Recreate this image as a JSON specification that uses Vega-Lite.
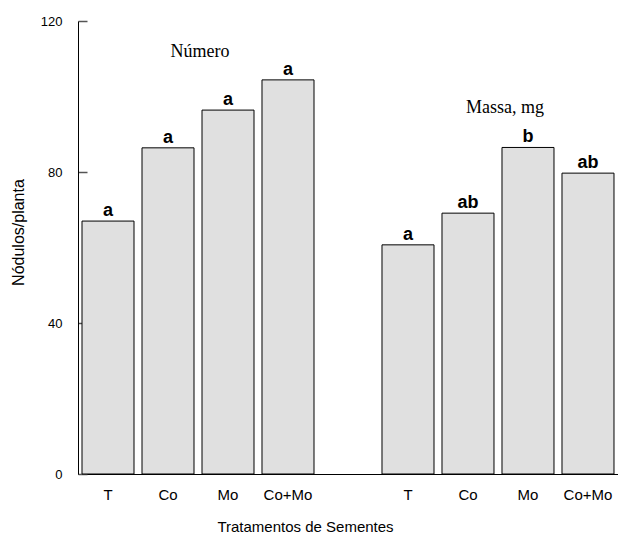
{
  "$schema": "https://vega.github.io/schema/vega-lite/v6.json",
  "width": 540,
  "height": 453,
  "autosize": {"type": "none"},
  "padding": {"left": 78, "top": 21, "right": 0, "bottom": 59},
  "background": "white",
  "config": {"view": {"stroke": null}, "font": "Liberation Sans"},
  "datasets": {
    "bars": [
      {"key": "N_T", "value": 67, "letter": "a"},
      {"key": "N_Co", "value": 86.4, "letter": "a"},
      {"key": "N_Mo", "value": 96.4, "letter": "a"},
      {"key": "N_Co+Mo", "value": 104.4, "letter": "a"},
      {"key": "M_T", "value": 60.7, "letter": "a"},
      {"key": "M_Co", "value": 69.1, "letter": "ab"},
      {"key": "M_Mo", "value": 86.5, "letter": "b"},
      {"key": "M_Co+Mo", "value": 79.7, "letter": "ab"}
    ],
    "notes": [
      {"key": "N_Co", "y": 110.5, "text": "Número"},
      {"key": "M_Co", "y": 95.6, "text": "Massa, mg"}
    ]
  },
  "layer": [
    {
      "data": {"name": "bars"},
      "mark": {"type": "bar", "fill": "#e0e0e0", "stroke": "black", "strokeWidth": 1},
      "encoding": {
        "x": {
          "field": "key", "type": "nominal", "sort": null,
          "scale": {
            "domain": ["N_T", "N_Co", "N_Mo", "N_Co+Mo", "gap", "M_T", "M_Co", "M_Mo", "M_Co+Mo"],
            "paddingInner": 0.1333, "paddingOuter": 0.0667
          },
          "axis": {
            "title": "Tratamentos de Sementes",
            "labelExpr": "datum.value == 'gap' ? '' : split(datum.value, '_')[1]",
            "labelAngle": 0, "labelFontSize": 15, "labelColor": "black",
            "labelPadding": 13, "labelBaseline": "top",
            "ticks": false, "domainColor": "black", "domainWidth": 1,
            "titleFontSize": 15, "titleFontWeight": "normal", "titleColor": "black",
            "titleX": 227, "titleY": 57, "titleBaseline": "alphabetic", "titleAnchor": null, "titleAlign": "center"
          }
        },
        "y": {
          "field": "value", "type": "quantitative",
          "scale": {"domain": [0, 120], "nice": false},
          "axis": {
            "title": "Nódulos/planta", "values": [0, 40, 80, 120],
            "grid": false, "domainColor": "black", "domainWidth": 1,
            "tickSize": -9, "tickColor": "#555555", "tickWidth": 1.5,
            "labelFontSize": 13, "labelColor": "black", "labelPadding": 25,
            "titleFontSize": 16, "titleFontWeight": "normal", "titleColor": "black",
            "titleX": -60, "titleY": 211, "titleAngle": -90, "titleBaseline": "middle", "titleAlign": "center", "titleAnchor": null
          }
        }
      }
    },
    {
      "data": {"name": "bars"},
      "mark": {"type": "text", "fontWeight": "bold", "fontSize": 18, "font": "Liberation Sans", "baseline": "alphabetic", "dy": -5, "color": "black"},
      "encoding": {
        "x": {"field": "key", "type": "nominal", "sort": null},
        "y": {"field": "value", "type": "quantitative"},
        "text": {"field": "letter"}
      }
    },
    {
      "data": {"name": "notes"},
      "transform": [{"filter": "datum.key == 'N_Co'"}],
      "mark": {"type": "text", "fontSize": 18, "font": "Liberation Serif", "baseline": "alphabetic", "align": "center", "dx": 6, "color": "black"},
      "encoding": {
        "x": {"field": "key", "type": "nominal", "sort": null, "bandPosition": 1},
        "y": {"field": "y", "type": "quantitative"},
        "text": {"field": "text"}
      }
    },
    {
      "data": {"name": "notes"},
      "transform": [{"filter": "datum.key == 'M_Co'"}],
      "mark": {"type": "text", "fontSize": 18, "font": "Liberation Serif", "baseline": "alphabetic", "align": "center", "dx": 11, "color": "black"},
      "encoding": {
        "x": {"field": "key", "type": "nominal", "sort": null, "bandPosition": 1},
        "y": {"field": "y", "type": "quantitative"},
        "text": {"field": "text"}
      }
    }
  ]
}
